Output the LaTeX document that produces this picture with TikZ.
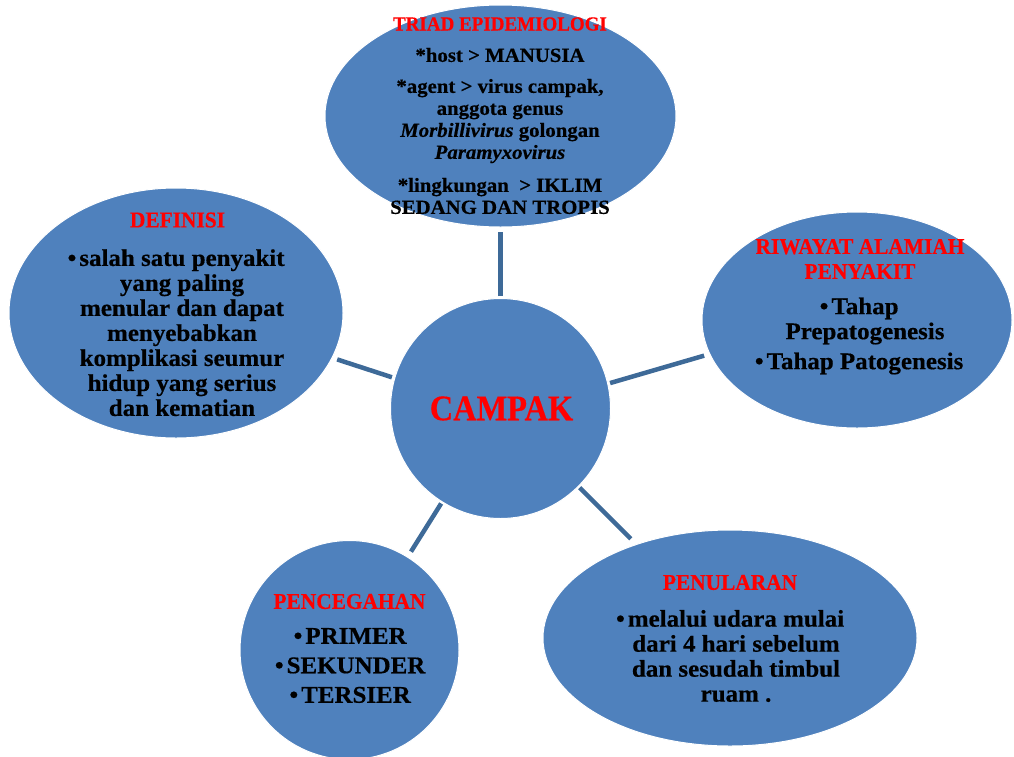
\documentclass[tikz,border=0pt]{standalone}
\usepackage{fontspec}
\setmainfont{Liberation Serif}
\newfontfamily\bodyfont{Liberation Serif}[FakeStretch=1.04, BoldFeatures={FakeBold=0.5}, BoldItalicFeatures={FakeBold=0.5}]
\newfontfamily\ttlfont{Liberation Serif}[FakeStretch=0.95, BoldFeatures={FakeBold=0.4}]
\newfontfamily\bigfont{Liberation Serif}[FakeStretch=0.9, BoldFeatures={FakeBold=0.4}]
\usetikzlibrary{shapes.geometric}
\definecolor{blobfill}{RGB}{79,129,189}
\definecolor{linkcol}{RGB}{62,106,152}
\newcommand{\bul}{\leavevmode\llap{\textbullet\hspace{3pt}}}
\begin{document}
\begin{tikzpicture}[x=1pt,y=-1pt,
  blob/.style={ellipse, fill=blobfill, draw=white, line width=1pt, inner sep=0pt, outer sep=0pt},
  link/.style={draw=linkcol, line width=4.5pt},
  ttl/.style={text=red, align=center, inner sep=0pt, font=\ttlfont\bfseries\fontsize{22.5}{25}\selectfont},
  body/.style={text=black, align=center, inner sep=0pt, font=\bodyfont\bfseries\fontsize{24}{25}\selectfont},
]
\fill[white] (0,0) rectangle (1014,756);
\useasboundingbox (0,0) rectangle (1014,756);

% shapes
\node[blob, minimum width=351pt, minimum height=222pt] (top) at (500.5,116) {};
\node[blob, minimum width=334pt, minimum height=250pt] (def) at (176,313) {};
\node[blob, minimum width=310pt, minimum height=216pt] (riw) at (857,320) {};
\node[blob, minimum width=374pt, minimum height=216pt] (pen) at (730,638) {};
\node[blob, circle, minimum size=219pt] (pcg) at (349.5,650) {};
\node[blob, circle, minimum size=220pt] (mid) at (500.5,408.5) {};

% connectors
\draw[link, shorten <=2.5pt, shorten >=5pt] (mid.90) -- (top.270);
\draw[link, shorten <=3pt, shorten >=5.5pt] (mid.164) -- (def.-16.3);
\draw[link, shorten <=2.5pt, shorten >=6pt] (mid.13.6) -- (riw.193.7);
\draw[link, shorten <=2pt, shorten >=6.5pt] (mid.238.1) -- (pcg.58.2);
\draw[link, shorten <=2pt, shorten >=8pt] (mid.-45) -- (pen.135.3);

% texts
\node[text=red, inner sep=0pt, font=\bigfont\bfseries\fontsize{36}{40}\selectfont] (midT) at (501.5,408.5) {CAMPAK};

\node[ttl, font=\ttlfont\bfseries\fontsize{20}{22}\selectfont] (topT) at (500,24) {TRIAD EPIDEMIOLOGI};
\node[body, font=\bodyfont\bfseries\fontsize{20}{22}\selectfont] (topB) at (500,131) {*host > MANUSIA\\[9pt]
*agent > virus campak,\\ anggota genus\\ \textit{Morbillivirus} golongan\\ \textit{Paramyxovirus}\\[11pt]
*lingkungan \ > IKLIM\\ SEDANG DAN TROPIS};

\node[ttl] (defT) at (177.5,220) {DEFINISI};
\node[body] (defB) at (182,332.7) {\bul salah satu penyakit\\ yang paling\\ menular dan dapat\\ menyebabkan\\ komplikasi seumur\\ hidup yang serius\\ dan kematian};

\node[ttl] (riwT) at (860,259) {RIWAYAT ALAMIAH\\ PENYAKIT};
\node[body] (riwB) at (865,336) {\bul Tahap\\ Prepatogenesis\\[5pt] \bul Tahap Patogenesis};

\node[ttl] (pcgT) at (349.5,601.5) {PENCEGAHAN};
\node[body] (pcgB) at (356,665.5) {\bul PRIMER\\[4.5pt] \bul SEKUNDER\\[4.5pt] \bul TERSIER};

\node[ttl] (penT) at (730,582.5) {PENULARAN};
\node[body] (penB) at (736,656) {\bul melalui udara mulai\\ dari 4 hari sebelum\\ dan sesudah timbul\\ ruam .};
\end{tikzpicture}
\end{document}
